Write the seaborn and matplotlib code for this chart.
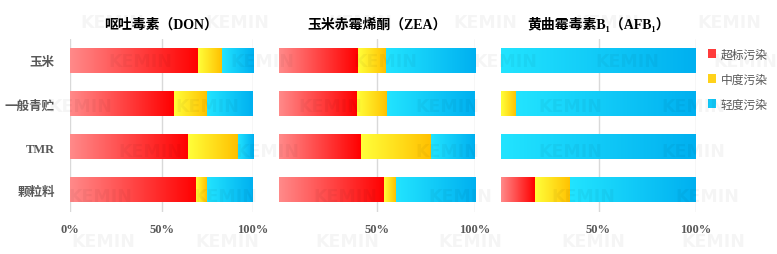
import numpy as np
import pandas as pd
import matplotlib
matplotlib.use("Agg")
import matplotlib.pyplot as plt
import seaborn as sns
from matplotlib.colors import LinearSegmentedColormap
from matplotlib.patches import Patch

# dati (quota per livello di contaminazione)
categorie = ["玉米", "一般青贮", "TMR", "颗粒料"]
livelli = ["超标污染", "中度污染", "轻度污染"]
titoli = ["呕吐毒素（DON）", "玉米赤霉烯酮（ZEA）", "黄曲霉毒素B₁（AFB₁）"]

don_alto = [0.70, 0.568, 0.645, 0.689]
don_medio = [0.129, 0.181, 0.273, 0.060]
don_basso = [0.171, 0.251, 0.082, 0.251]

zea_alto = [0.402, 0.397, 0.419, 0.537]
zea_medio = [0.143, 0.155, 0.358, 0.059]
zea_basso = [0.455, 0.448, 0.223, 0.404]

afb_alto = [0.0, 0.0, 0.0, 0.174]
afb_medio = [0.0, 0.077, 0.0, 0.180]
afb_basso = [1.0, 0.923, 1.0, 0.646]

xtick_labels = ["0%", "50%", "100%"]

dati = [(don_alto, don_medio, don_basso),
        (zea_alto, zea_medio, zea_basso),
        (afb_alto, afb_medio, afb_basso)]

# gradienti orizzontali (sinistra -> destra)
grad = [("#FF8A8A", "#FF0000"), ("#FFFF3A", "#FFC000"), ("#22E4FF", "#00B0F0")]
col_leg = ["#FF3B3B", "#FFD21A", "#12C8F8"]

grigio = "#595959"
cjk = ["Liberation Serif", "Noto Sans CJK SC", "DejaVu Sans"]

# filigrana KEMIN (posizioni in pixel)
wm_righe = [23, 62, 107, 152, 197, 242]
wm_colonne = [[112, 237, 360, 485, 607, 729],
              [140, 262, 385, 505, 627, 745],
              [80, 207, 330, 447, 570, 693],
              [150, 267, 447, 570, 693],
              [100, 225, 345, 460, 583, 707],
              [103, 227, 347, 470, 593, 713]]

sns.set_theme(style="white")
plt.rcParams["font.family"] = cjk

fig = plt.figure(figsize=(7.77, 2.55), dpi=100)
W, H = 777, 255
pos = [(70, 253), (279, 474.7), (501, 696)]
top, bot = 40, 213

for k, (x0, x1) in enumerate(pos):
    ax = fig.add_axes([x0 / W, 1 - bot / H, (x1 - x0) / W, (bot - top) / H])
    alto, medio, basso = dati[k]
    df = pd.DataFrame({"cat": categorie, "alto": alto, "medio": medio, "basso": basso})
    df["c1"] = df["alto"]
    df["c2"] = df["alto"] + df["medio"]
    df["c3"] = df["c2"] + df["basso"]

    # barre sovrapposte cumulative, poi riempite con gradienti
    for col in ["c3", "c2", "c1"]:
        sns.barplot(data=df, x=col, y="cat", order=categorie, orient="h",
                    width=0.56, color="white", ax=ax)

    n = len(categorie)
    gruppi = [ax.patches[i * n:(i + 1) * n] for i in range(3)]
    # gruppi[0]=c3 (basso), gruppi[1]=c2 (medio), gruppi[2]=c1 (alto)
    for liv, (gi, start_col, end_col) in enumerate([(2, None, "c1"), (1, "c1", "c2"), (0, "c2", "c3")]):
        cmap = LinearSegmentedColormap.from_list("g%d" % liv, grad[liv])
        for j, p in enumerate(gruppi[gi]):
            p.set_facecolor("none")
            p.set_edgecolor("none")
            s = 0.0 if start_col is None else df[start_col].iloc[j]
            e = df[end_col].iloc[j]
            if e - s <= 1e-4:
                continue
            y0 = p.get_y()
            y1 = y0 + p.get_height()
            ax.imshow(np.linspace(0, 1, 256).reshape(1, -1), cmap=cmap, aspect="auto",
                      extent=(s, e, y1, y0), zorder=3, interpolation="bilinear")

    ax.set_xlim(0, 1)
    ax.set_ylim(3.5, -0.5)
    if k == 0:
        ax.set_xticks([0, 0.5, 1])
        ax.set_xticklabels(xtick_labels)
        ax.set_yticklabels(categorie, color=grigio, fontsize=9, fontweight="bold")
    else:
        ax.set_xticks([0.5, 1])
        ax.set_xticklabels(xtick_labels[1:])
        ax.set_yticks([])
    for t in ax.get_xticklabels():
        t.set_color(grigio)
        t.set_fontsize(9)
        t.set_fontweight("bold")
    ax.tick_params(axis="x", length=0, pad=8)
    ax.tick_params(axis="y", length=0, pad=11)
    ax.grid(axis="x", color="#D9D9D9", linewidth=1)
    ax.set_axisbelow(True)
    for sp in ax.spines.values():
        sp.set_visible(False)
    ax.set_xlabel("")
    ax.set_ylabel("")
    ax.set_title(titoli[k], fontsize=10, fontweight="bold", color="black", pad=8)

handles = [Patch(facecolor=c, edgecolor="none") for c in col_leg]
leg = fig.legend(handles, livelli, loc="upper left", bbox_to_anchor=(703 / W, 1 - 45 / H),
                 frameon=False, fontsize=8.5, handlelength=0.7, handleheight=0.8,
                 handletextpad=0.4, labelspacing=1.1, borderaxespad=0)
for t in leg.get_texts():
    t.set_color(grigio)

for yy, xs in zip(wm_righe, wm_colonne):
    for xx in xs:
        fig.text(xx / W, 1 - yy / H, "KEMIN", fontsize=12.5, fontweight="bold",
                 family="DejaVu Sans", color="black", alpha=0.04,
                 ha="center", va="center", zorder=10)

fig.savefig("out.png", dpi=100)
